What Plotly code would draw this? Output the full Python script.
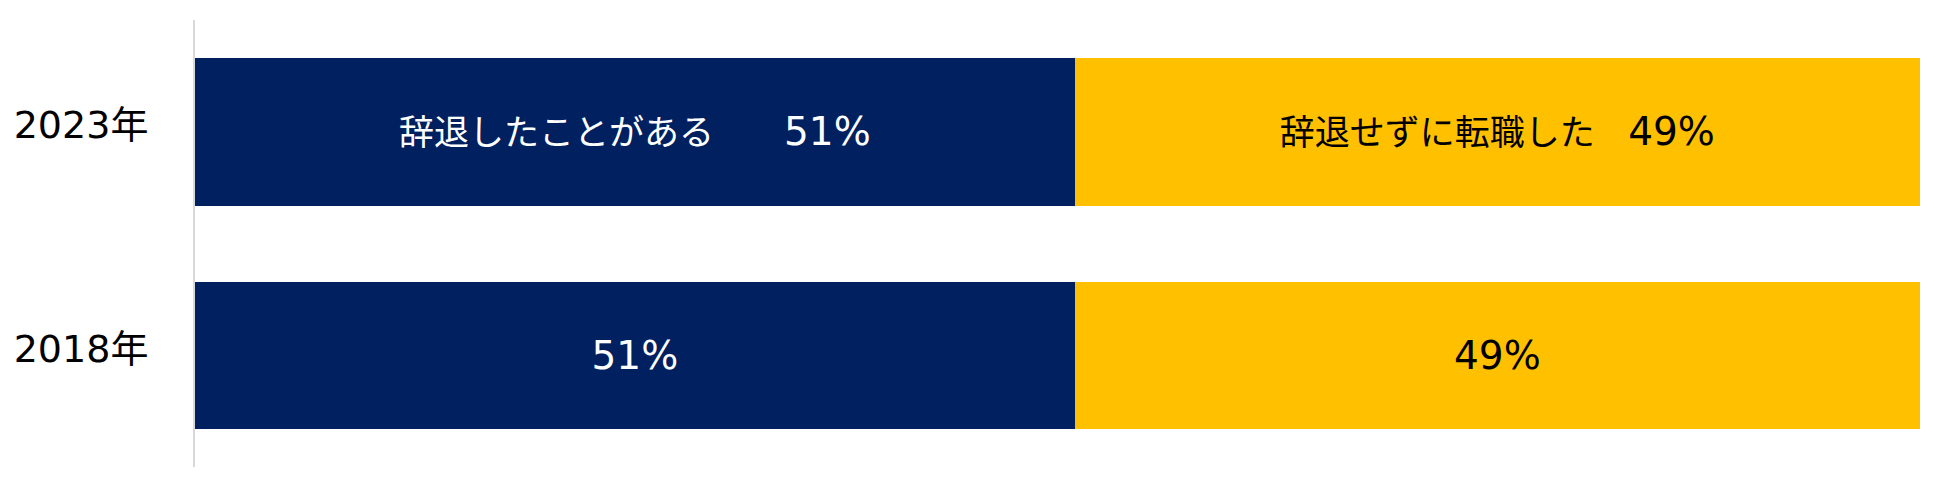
import plotly.graph_objects as go

# Data
categories = ["2018年", "2023年"]
series_names = ["辞退したことがある", "辞退せずに転職した"]
declined = [51, 51]
not_declined = [49, 49]
colors = ["#002060", "#FFC000"]
text_colors = ["#FFFFFF", "#000000"]
gaps = ["\u3000\u3000", "\u00a0\u00a0\u00a0"]

FONT = "DejaVu Sans, Noto Sans CJK JP, sans-serif"

def make_labels(name, values, gap):
    out = []
    for cat, v in zip(categories, values):
        if cat == "2023年":
            out.append(f"<span style='font-size:35px'>{name}{gap}</span>{v}%")
        else:
            out.append(f"{v}%")
    return out

fig = go.Figure()
for name, vals, col, tcol, gap in zip(series_names, [declined, not_declined], colors, text_colors, gaps):
    fig.add_trace(go.Bar(
        y=categories, x=vals, name=name, orientation="h",
        marker=dict(color=col, line=dict(width=0)),
        text=make_labels(name, vals, gap),
        textposition="inside", insidetextanchor="middle", textangle=0,
        insidetextfont=dict(family=FONT, size=39, color=tcol),
        hoverinfo="skip",
    ))

# the page body has an 8px margin, compensated here
fig.update_layout(
    barmode="stack", bargap=0.34,
    width=1950, height=492,
    margin=dict(l=187, r=38, t=12, b=33, autoexpand=False),
    plot_bgcolor="white", paper_bgcolor="white",
    showlegend=False,
    font=dict(family=FONT, color="#000000"),
)
fig.update_xaxes(visible=False, range=[0, 100], automargin=False)
fig.update_yaxes(
    range=[-0.5, 1.5], showgrid=False, zeroline=False, automargin=False,
    showline=True, linecolor="#D9D9D9", linewidth=2,
    ticks="", ticklabelstandoff=37, ticklabelshift=-7,
    tickfont=dict(family=FONT, size=38, color="#000000"),
)

fig.write_html("out.html")
